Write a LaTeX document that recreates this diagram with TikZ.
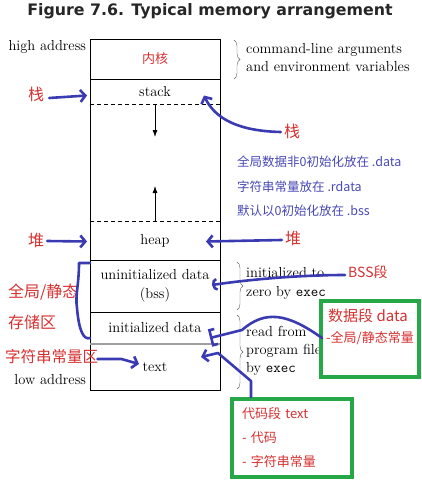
\documentclass[tikz,border=0pt]{standalone}
\usepackage{fontspec}
\newfontfamily\cjk{Noto Sans CJK SC}
\newfontfamily\titlefont{DejaVu Sans}
\usetikzlibrary{positioning,calc,arrows.meta,decorations.pathreplacing}
\definecolor{myred}{RGB}{214,48,48}
\definecolor{myblue}{RGB}{58,58,178}
\definecolor{textblue}{RGB}{72,72,182}
\definecolor{mygreen}{RGB}{38,168,72}
\definecolor{bracegray}{RGB}{95,95,95}

\tikzset{
	seg/.style={minimum width=130pt, inner sep=0pt, outer sep=0pt, align=center, font=\fontsize{14.5}{19}\selectfont},
	redlbl/.style={text=myred, inner sep=1pt, font=\cjk\fontsize{#1}{#1}\selectfont},
	hand/.style={myblue, line width=2.6pt, line cap=round, line join=round},
	handtip/.style={hand, -{Straight Barb[length=5pt, width=12pt]}},
	greenbox/.style={draw=mygreen, line width=4pt},
	membrace/.style={bracegray, decorate, decoration={brace, amplitude=6pt}},
	bracetext/.style={anchor=west, align=left, inner sep=0pt, font=\fontsize{14.5}{19}\selectfont},
}

\begin{document}
\begin{tikzpicture}[x=1pt, y=-1pt, >={Latex[length=7pt, width=5pt]}]
			\useasboundingbox (0,0) rectangle (422,490);
			% Titel
			\node[font=\titlefont\bfseries\fontsize{15.8}{18}\selectfont, text=black!85] (title) at (210,11) {Figure 7.6. Typical memory arrangement};
			% Speicherbereiche
			\node[seg, minimum height=40pt, text=myred, font=\cjk\fontsize{13}{15}\selectfont] (kernel) at (155,59) {内核};
			\node[seg, minimum height=25pt, below=0pt of kernel] (stack) {stack};
			\node[seg, minimum height=117pt, below=0pt of stack] (gap) {};
			\node[seg, minimum height=39pt, below=0pt of gap] (heap) {heap};
			\node[seg, minimum height=52pt, below=0pt of heap] (bss) {uninitialized data\\(bss)};
			\node[seg, minimum height=32pt, below=0pt of bss] (data) {initialized data};
			\node[seg, minimum height=46pt, below=0pt of data] (textseg) {text};
			% Rahmen und Trennlinien
			\draw[line width=0.8pt] (kernel.north west) rectangle (textseg.south east);
			\foreach \s in {kernel,heap,bss} \draw[line width=0.8pt] (\s.south west) -- (\s.south east);
			\foreach \s in {stack,gap} \draw[line width=0.8pt, dash pattern=on 4pt off 3pt] (\s.south west) -- (\s.south east);
			\draw[gray!75, line width=1.6pt] (data.south west) -- (data.south east);
			\draw[->, line width=0.8pt] (gap.north) -- ++(0,33);
			\draw[->, line width=0.8pt] (gap.south) -- ++(0,-35);
			% Adressen
			\node[seg, minimum width=0pt, anchor=east] (high) at (86,47) {high address};
			\node[seg, minimum width=0pt, anchor=east] (low) at (86,380) {low address};
			% Klammern rechts
			\draw[membrace] ($(kernel.north east)+(14,1)$) -- ($(kernel.south east)+(14,0)$);
			\draw[membrace] ($(bss.north east)+(17,2)$) -- ($(bss.south east)+(17,-2)$);
			\draw[membrace] ($(data.north east)+(17,3)$) -- ($(textseg.south east)+(17,-1)$);
			\node[bracetext] (args) at (246,58) {command-line arguments\\[-1pt]and environment variables};
			\node[bracetext] (zero) at (246,283) {initialized to\\zero by \texttt{exec}};
			\node[bracetext] (readf) at (246,351) {read from\\[-1pt]program file\\[-1pt]by \texttt{exec}};
			% Notizen blau
			\foreach \t/\y in {全局数据非0初始化放在 .data/162, 字符串常量放在 .rdata/187, 默认以0初始化放在 .bss/211}
				\node[anchor=west, inner sep=0pt, text=textblue, font=\cjk\fontsize{12.5}{14}\selectfont] at (237,\y) {\t};
			% Beschriftungen rot
			\node[redlbl=16] (zhanL) at (36,94) {栈};
			\node[redlbl=16] (zhanR) at (292,131) {栈};
			\node[redlbl=16] (duiL) at (36,240) {堆};
			\node[redlbl=16] (duiR) at (293,238) {堆};
			\node[redlbl=16, anchor=west] (globL) at (7,292) {全局/静态};
			\node[redlbl=16, anchor=west] (storL) at (7,322) {存储区};
			\node[redlbl=15.5, anchor=west] (strL) at (4,357) {字符串常量区};
			\node[redlbl=14, anchor=west] (bssL) at (347,272) {BSS段};
			% gruene Kaesten
			\node[greenbox, minimum width=98pt, minimum height=76pt] (datbox) at (370,339) {};
			\node[redlbl=15, anchor=west] (datL) at ($(datbox.north west)+(8,17)$) {数据段 data};
			\node[redlbl=13, anchor=west] (datsub) at ($(datbox.north west)+(6,39)$) {-全局/静态常量};
			\node[greenbox, minimum width=120pt, minimum height=78pt, text width=100pt, align=left, text=myred, font=\cjk\fontsize{13}{24}\selectfont] (codebox) at (292,438) {代码段 text\\- 代码\\- 字符串常量};
			% Pfeile (von Hand)
			\draw[handtip] ($(zhanL.east)+(4,4)$) -- ($(stack.west)+(-3,4)$);
			\draw[handtip] ($(zhanR.west)+(-2,1)$) .. controls ($(zhanR.west)+(-45,0)$) and ($(stack.east)+(-5,27)$) .. ($(stack.east)+(-16,4)$);
			\draw[handtip] ($(duiL.east)+(2,1)$) -- ($(heap.west)+(-3,1)$);
			\draw[handtip] ($(duiR.west)+(-2,2)$) -- ($(heap.east)+(-14,1)$);
			\draw[hand, -{Arc Barb[length=5pt, width=13pt]}] ($(bssL.west)+(-2,3)$) .. controls ($(bssL.west)+(-50,3)$) and ($(bss.east)+(25,-6)$) .. ($(bss.east)+(-8,-1)$);
			\draw[hand, -{Bracket[length=5pt, width=18pt]}] ($(datsub.west)+(-3,0)$) .. controls ($(datsub.west)+(-38,-25)$) and ($(data.east)+(45,-18)$) .. ($(data.east)+(22,2)$) -- ($(data.east)+(-10,10)$);
			\draw[handtip] ($(strL.east)+(-2,2)$) -- ($(strL.east)+(22,2)$) -- ($(textseg.center)+(-16,-3)$);
			\draw[handtip] ($(codebox.north west)+(21,0)$) -- ($(codebox.north west)+(21,-16)$) -- ($(textseg.east)+(-2,-14)$) -- ($(textseg.east)+(-19,-10)$);
			% Klammer links
			\draw[hand] ($(bss.north west)+(0,3)$) -- ($(bss.north west)+(-11,3)$) .. controls ($(bss.north west)+(-11,25)$) and ($(bss.north west)+(-15,35)$) .. ($(bss.north west)+(-13,48)$) .. controls ($(data.south west)+(-11,-12)$) and ($(data.south west)+(-6,-4)$) .. ($(data.south west)+(0,-6)$);
\end{tikzpicture}
\end{document}
